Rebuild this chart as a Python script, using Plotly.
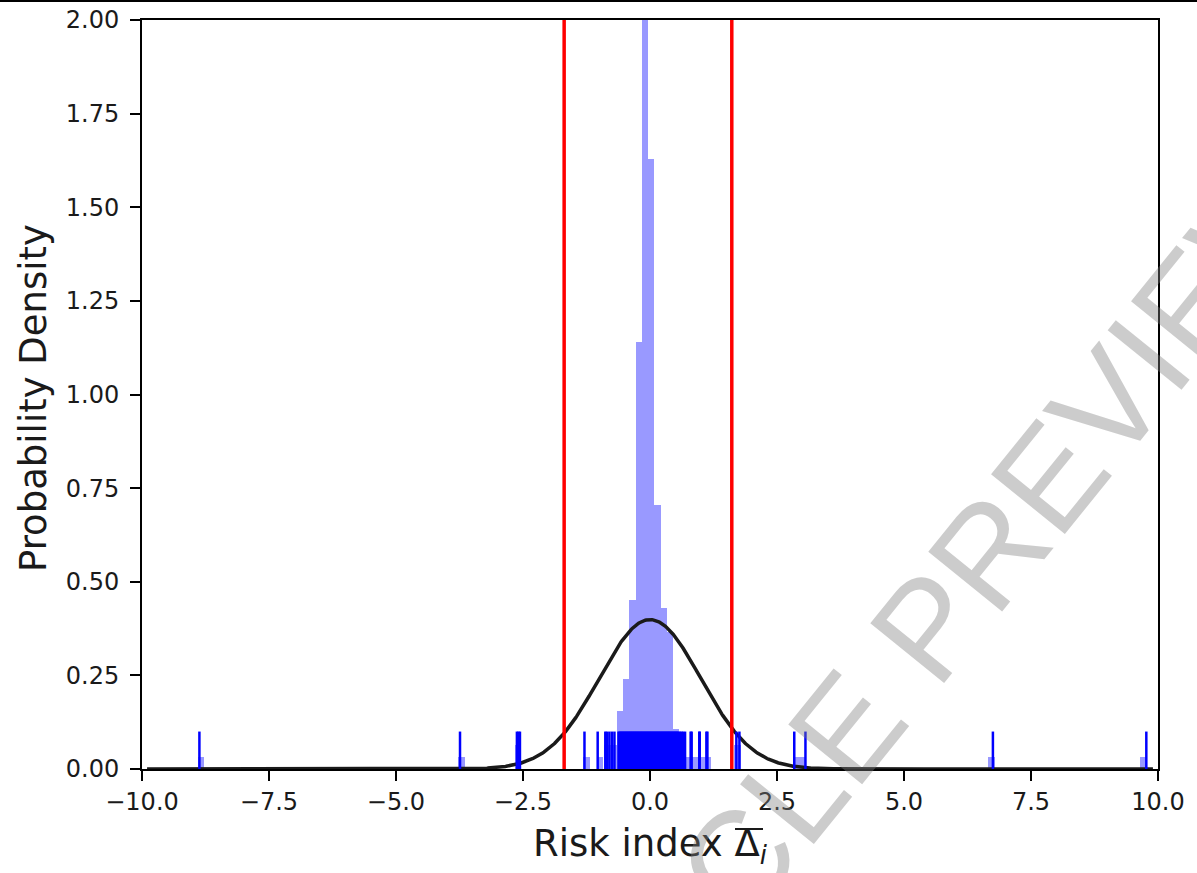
import numpy as np
import plotly.graph_objects as go

# ---------------- data ----------------
hist_centers = [-8.84, -3.71, -2.60, -1.25, -0.99, -0.838, -0.715, -0.592, -0.469,
                -0.346, -0.223, -0.100, 0.023, 0.146, 0.269, 0.392, 0.515, 0.638,
                0.761, 0.884, 1.007, 1.130, 1.72, 2.88, 3.00, 6.72, 9.71]
hist_density = [0.032, 0.032, 0.065, 0.032, 0.032, 0.065, 0.065, 0.154, 0.24,
                0.45, 1.14, 2.30, 1.63, 0.705, 0.43, 0.367, 0.107, 0.065,
                0.032, 0.032, 0.032, 0.032, 0.065, 0.032, 0.032, 0.032, 0.032]
bin_width = 0.123

rug_values = [-8.87, -3.74, -2.62, -2.59, -2.56, -1.29, -1.03, -0.88, -0.85, -0.80,
              -0.75, -0.70,
              -0.62, -0.60, -0.58, -0.56, -0.54, -0.52, -0.50, -0.48, -0.46, -0.44,
              -0.42, -0.40, -0.38, -0.36, -0.34, -0.32, -0.30, -0.28, -0.26, -0.24,
              -0.22, -0.20, -0.18, -0.16, -0.14, -0.12, -0.10, -0.08, -0.06, -0.04,
              -0.02, 0.00, 0.02, 0.04, 0.06, 0.08, 0.10, 0.12, 0.14, 0.16, 0.18,
              0.20, 0.22, 0.24, 0.26, 0.28, 0.30, 0.32, 0.34, 0.36, 0.38, 0.40,
              0.42, 0.44, 0.46, 0.48, 0.50, 0.52, 0.54, 0.56,
              0.59, 0.62, 0.65, 0.69, 0.80, 0.82, 0.97, 0.98, 1.11, 1.13,
              1.70, 1.76, 2.84, 3.06, 6.75, 9.77]
rug_height = 0.1

norm_mu = 0.0
norm_sigma = 1.0
crit_lo = -1.69
crit_hi = 1.61

x_tickvals = [-10, -7.5, -5, -2.5, 0, 2.5, 5, 7.5, 10]
x_ticktext = ["\u221210.0", "\u22127.5", "\u22125.0", "\u22122.5", "0.0", "2.5", "5.0", "7.5", "10.0"]
y_tickvals = [0, 0.25, 0.5, 0.75, 1.0, 1.25, 1.5, 1.75, 2.0]

# ---------------- figure ----------------
W, H = 1197, 873
ML, MR, MT, MB = 142, 39, 20, 104
PW, PH = W - ML - MR, H - MT - MB


def px_x(p):
    return (p - ML) / PW


def px_y(p):
    return (H - MB - p) / PH


fig = go.Figure()

fig.add_trace(go.Bar(x=hist_centers, y=hist_density, width=bin_width,
                     marker=dict(color="rgba(0,0,255,0.4)", line=dict(width=0)),
                     showlegend=False, hoverinfo="skip"))

xc = np.linspace(-9.9, 9.9, 1200)
yc = np.exp(-0.5 * ((xc - norm_mu) / norm_sigma) ** 2) / (norm_sigma * np.sqrt(2 * np.pi))
fig.add_trace(go.Scatter(x=xc, y=yc, mode="lines",
                         line=dict(color="#1a1a1a", width=3.5),
                         showlegend=False, hoverinfo="skip"))

rx, ry = [], []
for v in rug_values:
    rx += [v, v, None]
    ry += [0, rug_height, None]
fig.add_trace(go.Scatter(x=rx, y=ry, mode="lines",
                         line=dict(color="#0000ff", width=2.5),
                         showlegend=False, hoverinfo="skip"))

for v in (crit_lo, crit_hi):
    fig.add_trace(go.Scatter(x=[v, v], y=[0, 2.0], mode="lines",
                             line=dict(color="#ff0000", width=3.5),
                             showlegend=False, hoverinfo="skip"))

axis_common = dict(showgrid=False, zeroline=False, showline=True, linecolor="black",
                   linewidth=2, mirror=True, ticks="outside", ticklen=10, tickwidth=2,
                   tickcolor="black",
                   tickfont=dict(family="DejaVu Sans", size=24, color="#1a1a1a"))

fig.update_xaxes(range=[-10, 10], tickvals=x_tickvals, ticktext=x_ticktext, **axis_common)
fig.update_yaxes(range=[0, 2.0], tickvals=y_tickvals, tickformat=".2f",
                 ticklabelstandoff=6, **axis_common)

fig.update_layout(
    width=W, height=H,
    margin=dict(l=ML, r=MR, t=MT, b=MB, autoexpand=False),
    paper_bgcolor="white", plot_bgcolor="white",
    bargap=0,
    annotations=[
        dict(text="Risk index \u0394<sub><i>i</i></sub>", xref="paper", yref="paper",
             x=0.5, y=px_y(846), xanchor="center", yanchor="middle",
             showarrow=False, font=dict(family="DejaVu Sans", size=37, color="#1a1a1a")),
        dict(text="Probability Density", xref="paper", yref="paper",
             x=px_x(33), y=px_y(398), textangle=-90,
             xanchor="center", yanchor="middle",
             showarrow=False, font=dict(family="DejaVu Sans", size=37, color="#1a1a1a")),
        dict(text="ARTICLE PREVIEW", xref="paper", yref="paper",
             x=px_x(905), y=px_y(655), textangle=-51,
             xanchor="center", yanchor="middle", showarrow=False,
             font=dict(family="Liberation Sans", size=138, color="rgba(128,128,128,0.4)")),
    ],
    shapes=[
        dict(type="line", xref="paper", yref="paper",
             x0=-ML / PW, x1=1 + MR / PW, y0=px_y(1), y1=px_y(1),
             line=dict(color="black", width=2)),
        dict(type="line", xref="paper", yref="paper",
             x0=px_x(735), x1=px_x(763), y0=px_y(829), y1=px_y(829),
             line=dict(color="#1a1a1a", width=2)),
    ],
)

fig.write_html("out.html")
